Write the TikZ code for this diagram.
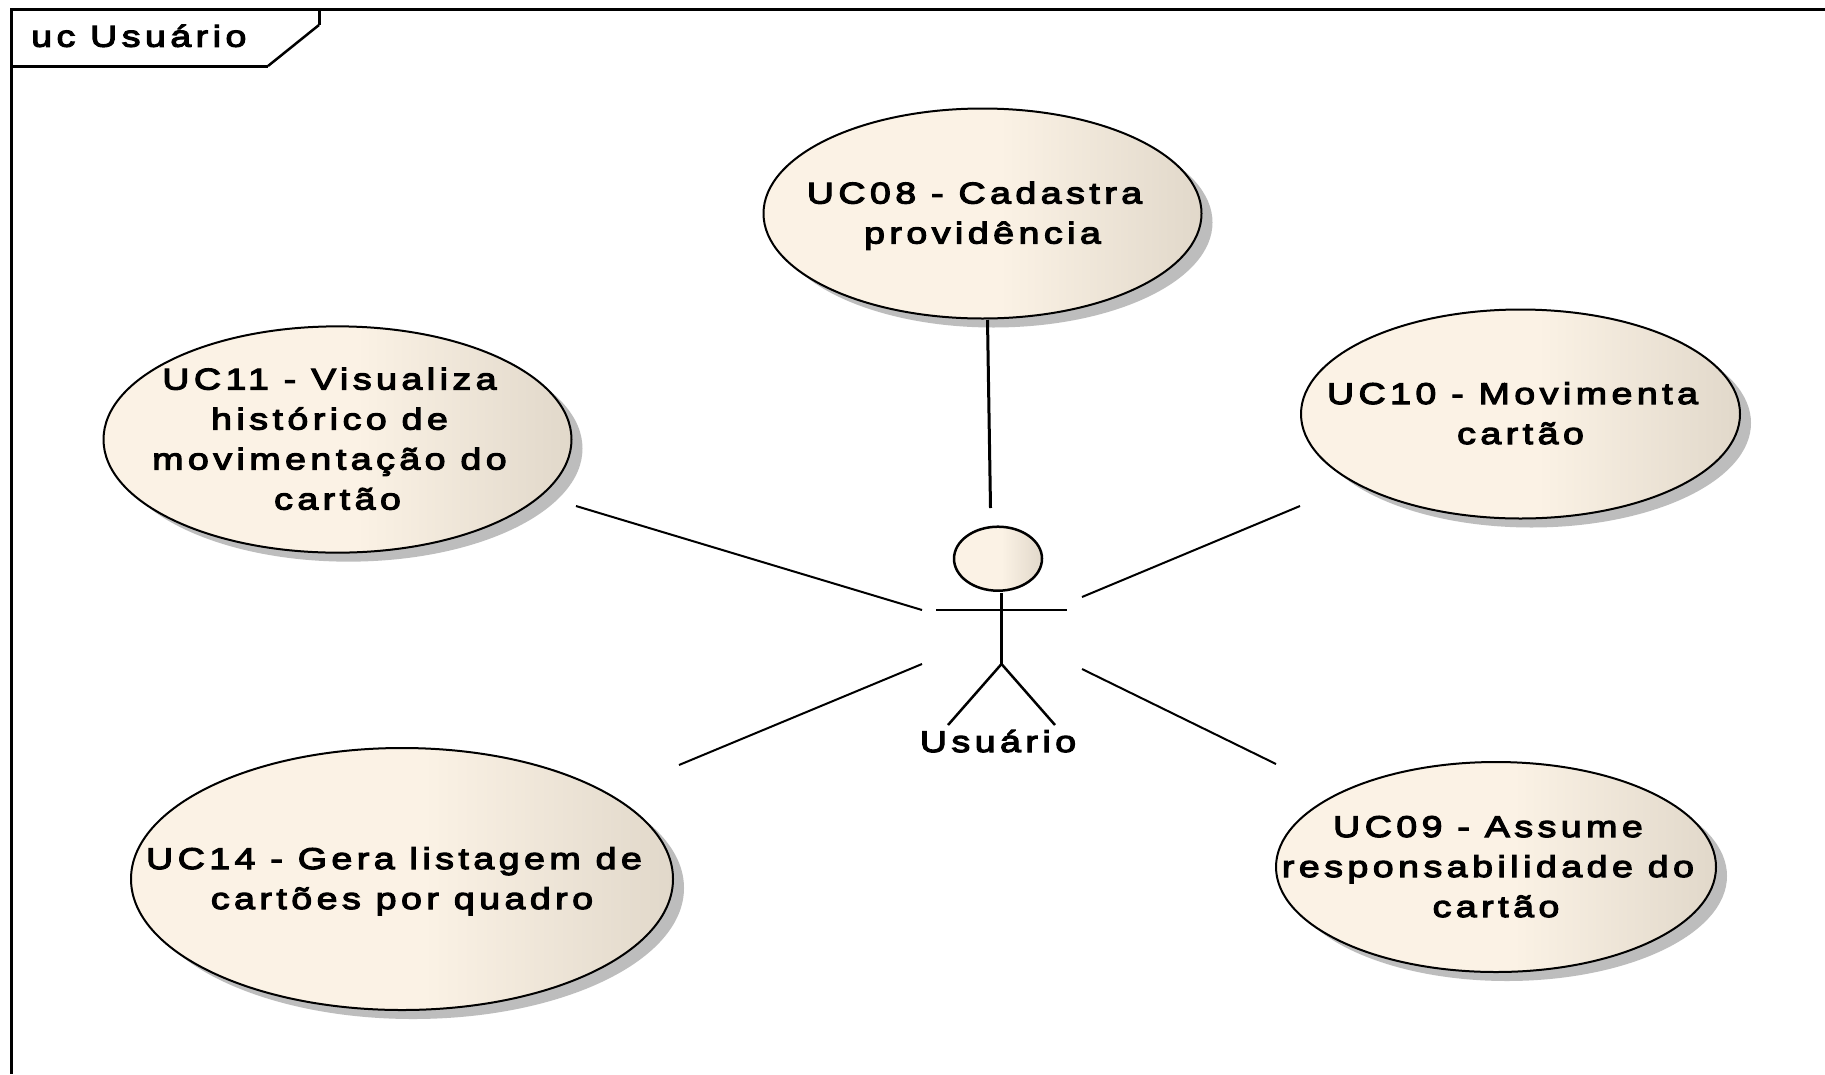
\documentclass[tikz,border=0pt]{standalone}
\usepackage{fontspec}
\setmainfont{Liberation Sans}[LetterSpace=15,FakeStretch=1.25,FakeBold=4]
\usetikzlibrary{shapes.geometric,shadows}
\definecolor{ucA}{HTML}{FBF2E5}
\definecolor{ucB}{HTML}{E1D8CA}
\definecolor{shadowgray}{HTML}{BDBDBD}
\pgfdeclarehorizontalshading{ucshade}{100bp}{color(0bp)=(ucA); color(52bp)=(ucA); color(75bp)=(ucB); color(100bp)=(ucB)}
\newcommand{\uctext}[1]{\makebox[0pt]{\hspace*{-16pt}\raisebox{-2pt}[\height][\depth]{\begin{tabular}{@{}c@{}}#1\end{tabular}}}}
\newcommand{\nudge}{\hspace*{16pt}}
\tikzset{
  usecase/.style={ellipse,draw=black,line width=2pt,shading=ucshade,inner sep=0pt,
    font=\fontsize{30}{40}\selectfont,
    drop shadow={shadow xshift=11pt,shadow yshift=-9pt,fill=shadowgray,opacity=1}},
  actorhead/.style={ellipse,draw=black,line width=2.5pt,shading=ucshade,inner sep=0pt},
  framelabel/.style={inner sep=0pt,font=\fontsize{30}{36}\selectfont},
  frameline/.style={draw=black,line width=3pt},
  link/.style={draw=black,line width=2pt},
  strongline/.style={draw=black,line width=3pt},
  stick/.style={draw=black,line width=2.5pt}
}
\begin{document}
\begin{tikzpicture}[x=1pt,y=-1pt]
\useasboundingbox (0,0) rectangle (1825,1074);
\fill[white] (0,0) rectangle (1825,1074);
% frame
\draw[frameline] (1825,9.5) -- (11.5,9.5) -- (11.5,1074);
\draw[frameline] (319,9.5) -- (319,25);
\draw[draw=black,line width=2.5pt] (319,25) -- (268,66);
\draw[frameline] (268,66) -- (11.5,66);
\node[framelabel,anchor=base west] (frametitle) at (31,46.7) {uc Usuário};
% use cases
\node[usecase,minimum width=438pt,minimum height=210pt] (uc08) at (982.5,213.5) {\uctext{UC08 - Cadastra\\\nudge providência}};
\node[usecase,minimum width=468pt,minimum height=225pt] (uc11) at (337.5,439.5) {\uctext{UC11 - Visualiza\\histórico de\\movimentação do\\\nudge cartão}};
\node[usecase,minimum width=439pt,minimum height=209pt] (uc10) at (1520.5,414) {\uctext{UC10 - Movimenta\\\nudge cartão}};
\node[usecase,minimum width=542pt,minimum height=262pt] (uc14) at (402,879) {\uctext{UC14 - Gera listagem de\\\nudge cartões por quadro}};
\node[usecase,minimum width=440pt,minimum height=210pt] (uc09) at (1496,867) {\uctext{UC09 - Assume\\responsabilidade do\\\nudge cartão}};
% actor
\node[actorhead,minimum width=88pt,minimum height=64pt] (head) at (998,558.7) {};
\coordinate (neck) at (1001.5,593);
\coordinate (hip) at (1001.5,664);
\coordinate (armL) at (936,610);
\coordinate (armR) at (1067,610);
\coordinate (footL) at (948,725);
\coordinate (footR) at (1055,725);
\draw[stick] (neck) -- (hip);
\draw[draw=black,line width=2pt] (armL) -- (armR);
\draw[stick] (footL) -- (hip) -- (footR);
\node[framelabel,anchor=base] (actorname) at (998,752) {Usuário};
% connector ends
\coordinate (a08) at (987.5,320);
\coordinate (b08) at (990.5,508);
\coordinate (a11) at (576,506);
\coordinate (b11) at (922,610);
\coordinate (a10) at (1300,506);
\coordinate (b10) at (1082,597);
\coordinate (a14) at (679,765);
\coordinate (b14) at (922,664);
\coordinate (a09) at (1276,764);
\coordinate (b09) at (1082,669);
\draw[strongline] (a08) -- (b08);
\draw[link] (a11) -- (b11);
\draw[link] (a10) -- (b10);
\draw[link] (a14) -- (b14);
\draw[link] (a09) -- (b09);
\end{tikzpicture}
\end{document}
